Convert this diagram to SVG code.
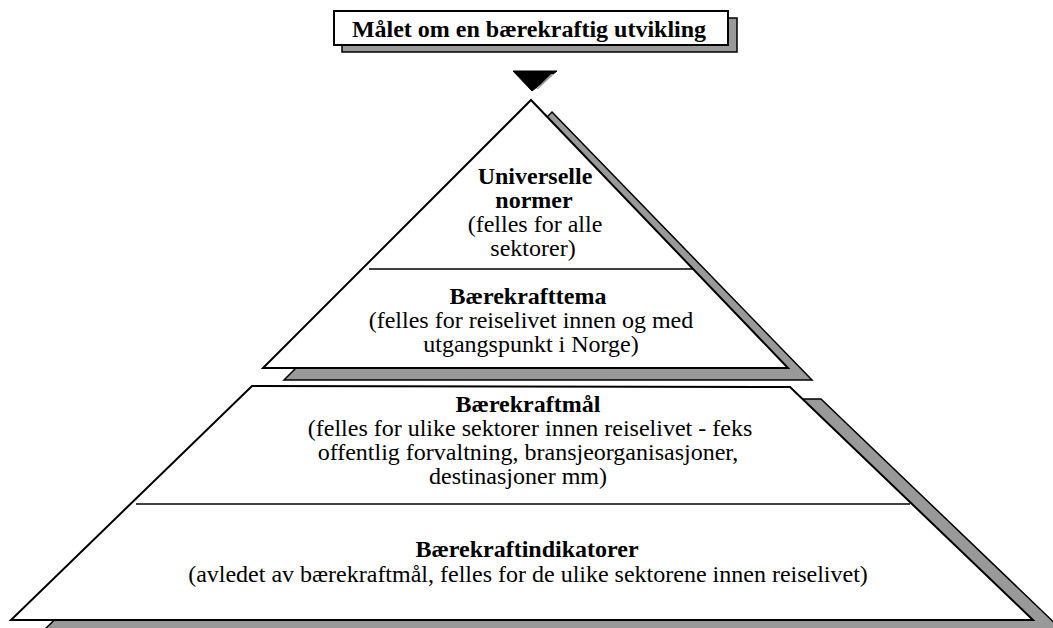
<svg xmlns="http://www.w3.org/2000/svg" width="1053" height="628" viewBox="0 0 1053 628">
  <style>
    .shadow { fill: #999999; stroke: #000000; stroke-width: 1.5; stroke-linejoin: miter; }
    .face { fill: #ffffff; stroke: #000000; stroke-width: 2; stroke-linejoin: miter; }
    .div { stroke: #000000; stroke-width: 1.5; fill: none; }
    text { font-family: "Liberation Serif", "Times New Roman", serif; font-size: 24px; fill: #000000; text-anchor: middle; }
    .b { font-weight: bold; }
  </style>
  <rect width="1053" height="628" fill="#ffffff"/>

  <g id="title">
    <rect class="shadow" x="342" y="18" width="395" height="34"/>
    <rect class="face" x="334" y="11" width="394" height="34"/>
    <text class="b" x="529" y="37">Målet om en bærekraftig utvikling</text>
  </g>

  <g id="connectors">
    <polygon points="513,71 557,71 532,91" fill="#000000" stroke="#000000" stroke-width="1"/>
    <polygon points="551,74 554,74 538,89 536,89" fill="#999999" stroke="none"/>
  </g>

  <g id="bottom-pyramid">
    <polygon class="shadow" points="283,398 821,399 1064,632 42,632"/>
    <polygon class="face" points="252,386 790,387 1033,620 11,620"/>
    <line class="div" x1="136" y1="504" x2="910" y2="504"/>
    <text class="b" x="528" y="412">Bærekraftmål</text>
    <text x="530" y="436">(felles for ulike sektorer innen reiselivet - feks</text>
    <text x="528" y="460">offentlig forvaltning, bransjeorganisasjoner,</text>
    <text x="518" y="484">destinasjoner mm)</text>
    <text class="b" x="527" y="557">Bærekraftindikatorer</text>
    <text x="528" y="582">(avledet av bærekraftmål, felles for de ulike sektorene innen reiselivet)</text>
  </g>

  <g id="top-pyramid">
    <polygon class="shadow" points="552,112 812,380 284,380"/>
    <polygon class="face" points="531,100 788,368 263,368"/>
    <line class="div" x1="369" y1="269" x2="693" y2="269"/>
    <text class="b" x="535" y="184">Universelle</text>
    <text class="b" x="534" y="208">normer</text>
    <text x="535" y="232">(felles for alle</text>
    <text x="533" y="256">sektorer)</text>
    <text class="b" x="528" y="304">Bærekrafttema</text>
    <text x="531" y="328">(felles for reiselivet innen og med</text>
    <text x="531" y="352">utgangspunkt i Norge)</text>
  </g>
</svg>
